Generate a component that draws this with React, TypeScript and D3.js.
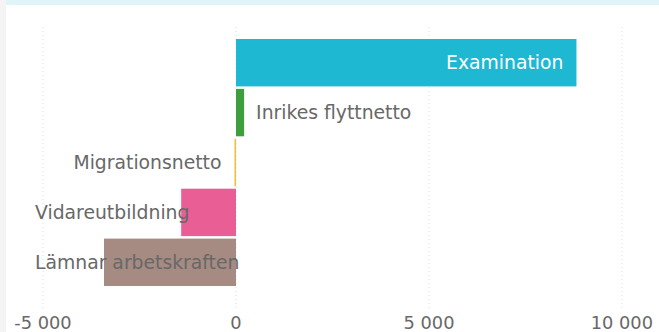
import React, { useEffect, useRef } from 'react';
import * as d3 from 'd3';

const categories = ['Examination', 'Inrikes flyttnetto', 'Migrationsnetto', 'Vidareutbildning', 'Lämnar arbetskraften'];
const values = [8820, 210, -40, -1420, -3420];
const colors = ['#1fb8d3', '#3d9e3d', '#f2c037', '#e95e95', '#a68b82'];
const ticks = [-5000, 0, 5000, 10000];

const width = 659;
const height = 332;
const fontFamily = '"DejaVu Sans", Verdana, sans-serif';

const fmt = (v: number) => d3.format(',')(v).replace(/,/g, ' ').replace('−', '-');

const App = () => {
  const container = useRef<SVGSVGElement>(null);

  useEffect(() => {
    createChart();
  }, []);

  const createChart = () => {
    const svg = d3.select(container.current);
    svg.selectAll('*').remove();

    svg.append('rect').attr('width', width).attr('height', height).attr('fill', '#ffffff');
    // left page edge and cropped title strip
    svg.append('rect').attr('x', 0).attr('y', 0).attr('width', 6).attr('height', height).attr('fill', '#f4f4f4');
    svg.append('rect').attr('x', 6).attr('y', 0).attr('width', width - 6).attr('height', 5).attr('fill', '#dff4f8');

    const xScale = d3.scaleLinear().domain([-5000, 10000]).range([43, 622]);
    const yScale = d3.scaleBand().domain(categories).range([36.5, 288.5]).padding(0.05);

    // grid
    svg
      .selectAll('.grid')
      .data(ticks)
      .join('line')
      .attr('class', 'grid')
      .attr('x1', d => xScale(d))
      .attr('x2', d => xScale(d))
      .attr('y1', 27)
      .attr('y2', 311)
      .attr('stroke', '#dcdcdc')
      .attr('stroke-width', 1)
      .attr('stroke-dasharray', '1,3');

    // bars
    svg
      .selectAll('.bar')
      .data(categories)
      .join('rect')
      .attr('class', 'bar')
      .attr('x', (d, i) => Math.min(xScale(0), xScale(values[i])))
      .attr('y', d => yScale(d) as number)
      .attr('width', (d, i) => Math.max(1.5, Math.abs(xScale(values[i]) - xScale(0))))
      .attr('height', yScale.bandwidth())
      .attr('fill', (d, i) => colors[i]);

    // bar labels
    const pad = 13;
    const minX = 35;
    categories.forEach((c, i) => {
      const v = values[i];
      const end = xScale(v);
      const cy = (yScale(c) as number) + yScale.bandwidth() / 2;
      const t = svg
        .append('text')
        .attr('y', cy)
        .attr('dy', '0.35em')
        .attr('font-family', fontFamily)
        .attr('font-size', 18.8)
        .attr('fill', '#686868')
        .text(c);
      const tw = (t.node() as SVGTextElement).getComputedTextLength();
      if (v >= 0) {
        if (end - xScale(0) > tw + 2 * pad) {
          t.attr('x', end - pad).attr('text-anchor', 'end').attr('fill', '#ffffff');
        } else {
          t.attr('x', end + pad - 1).attr('text-anchor', 'start');
        }
      } else {
        const right = end - pad;
        t.attr('x', Math.max(minX, right - tw)).attr('text-anchor', 'start');
      }
    });

    // x axis labels
    svg
      .selectAll('.tick-label')
      .data(ticks)
      .join('text')
      .attr('class', 'tick-label')
      .attr('font-family', fontFamily)
      .attr('font-size', 17.8)
      .attr('fill', '#686868')
      .attr('y', 329)
      .attr('text-anchor', 'middle')
      .attr('x', d => xScale(d))
      .text(d => fmt(d))
      .each(function (d) {
        const el = this as SVGTextElement;
        const tw = el.getComputedTextLength();
        if (xScale(d) + tw / 2 > 653) {
          d3.select(el).attr('text-anchor', 'end').attr('x', 653);
        }
      });
  };

  return (
    <svg
      ref={container}
      width={width}
      height={height}
      style={{ position: 'absolute', left: 0, top: 0, display: 'block' }}
    ></svg>
  );
};

export default App;
